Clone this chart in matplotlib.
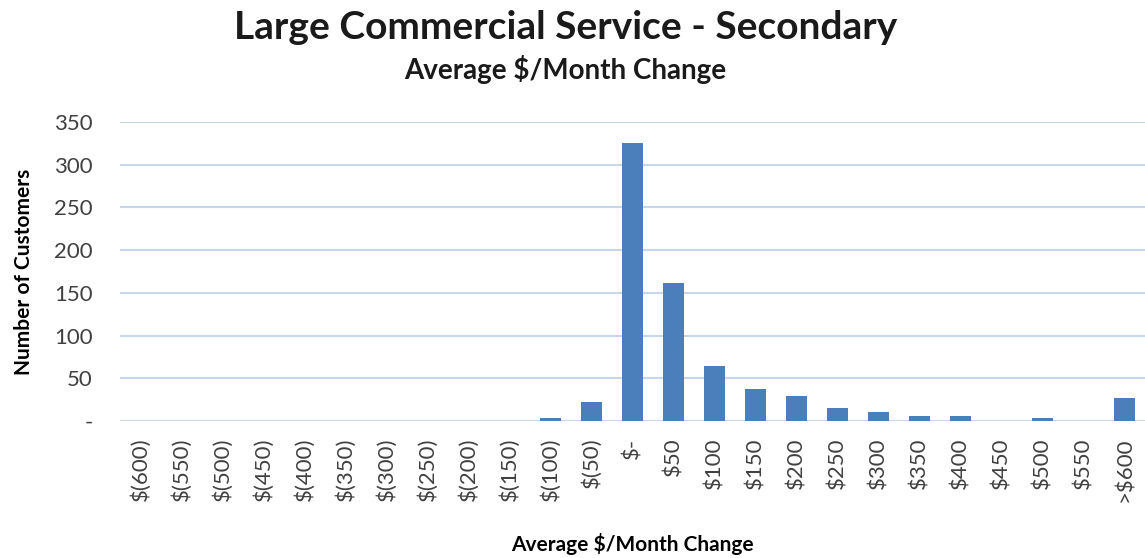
import matplotlib.pyplot as plt
import numpy as np

plt.rcParams['font.family'] = ['Lato', 'DejaVu Sans']

# bins of average monthly change
categories = ['$(600)', '$(550)', '$(500)', '$(450)', '$(400)', '$(350)',
              '$(300)', '$(250)', '$(200)', '$(150)', '$(100)', '$(50)',
              '$-', '$50', '$100', '$150', '$200', '$250', '$300', '$350',
              '$400', '$450', '$500', '$550', '>$600']
customers = [0, 0, 0, 0, 0, 0, 0, 0, 0, 0, 4, 22,
             325, 162, 64, 37, 29, 15, 10, 6,
             6, 0, 3, 0, 27]
yticks = [0, 50, 100, 150, 200, 250, 300, 350]
ytick_labels = ['-', '50', '100', '150', '200', '250', '300', '350']

fig = plt.figure(figsize=(11.45, 5.58), dpi=100)
ax = fig.add_axes([0.105, 0.2455, 0.895, 0.536])

x = np.arange(len(categories))
ax.bar(x, customers, width=0.5, color='#4b7fbc', zorder=3)

ax.set_xlim(-0.5, len(categories) - 0.5)
ax.set_ylim(0, 350)
ax.set_yticks(yticks)
ax.set_yticklabels(ytick_labels)
ax.set_xticks(x)
ax.set_xticklabels(categories, rotation=90)
ax.tick_params(axis='y', length=0, pad=20, labelsize=16, labelcolor='#404040')
ax.tick_params(axis='x', length=0, pad=12, labelsize=16, labelcolor='#404040')

ax.grid(axis='y', color='#c6d6ec', lw=1.5, zorder=0)
ax.set_axisbelow(True)
for s in ax.spines.values():
    s.set_visible(False)

ax.set_ylabel('Number of Customers', fontsize=15, fontweight='bold', labelpad=14)
ax.set_xlabel('Average $/Month Change', fontsize=15, fontweight='bold', labelpad=22)

fig.text(0.494, 0.95, 'Large Commercial Service - Secondary', ha='center',
         va='center', fontsize=28, fontweight='bold', color='#1a1a1a')
fig.text(0.494, 0.875, 'Average $/Month Change', ha='center', va='center',
         fontsize=20, fontweight='bold', color='#1a1a1a')

fig.savefig('out.png', dpi=100)
